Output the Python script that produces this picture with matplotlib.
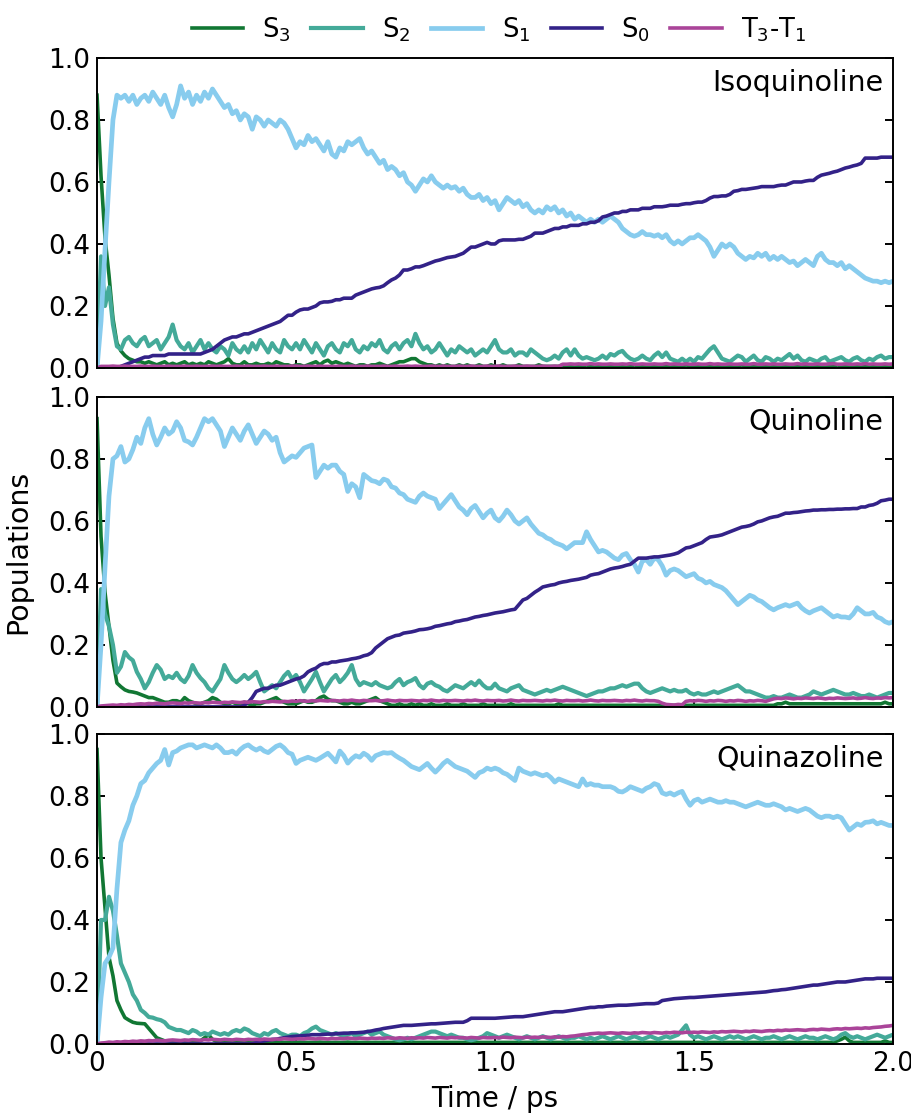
import numpy as np
import matplotlib
matplotlib.use("Agg")
import matplotlib.pyplot as plt

# Time axis of the surface-hopping populations (0.01 ps resolution)
time_ps = np.linspace(0.0, 2.0, 201)

state_labels = [r"S$_3$", r"S$_2$", r"S$_1$", r"S$_0$", r"T$_3$-T$_1$"]
state_colors = ["#117733", "#44AA99", "#88CCEE", "#332288", "#AA4499"]
state_widths = [2.6, 3.0, 3.4, 2.6, 2.6]
molecules = ["Isoquinoline", "Quinoline", "Quinazoline"]
x_ticks = [0, 0.5, 1.0, 1.5, 2.0]
x_tick_labels = ["0", "0.5", "1.0", "1.5", "2.0"]
y_ticks = [0.0, 0.2, 0.4, 0.6, 0.8, 1.0]
y_tick_labels = ["0.0", "0.2", "0.4", "0.6", "0.8", "1.0"]

# ---------------- Isoquinoline ----------------
iso_s3 = [
    0.88, 0.62, 0.42, 0.30, 0.16, 0.08, 0.055, 0.04, 0.03, 0.025,
    0.02, 0.02, 0.015, 0.02, 0.015, 0.01, 0.015, 0.02, 0.01, 0.015,
    0.01, 0.015, 0.02, 0.01, 0.015, 0.01, 0.015, 0.01, 0.02, 0.015,
    0.01, 0.015, 0.02, 0.03, 0.015, 0.01, 0.01, 0.02, 0.01, 0.01,
    0.015, 0.01, 0.01, 0.015, 0.01, 0.02, 0.015, 0.01, 0.01, 0.005,
    0.01, 0.01, 0.005, 0.01, 0.015, 0.02, 0.01, 0.02, 0.025, 0.015,
    0.02, 0.015, 0.01, 0.015, 0.01, 0.005, 0.01, 0.01, 0.005, 0.01,
    0.01, 0.015, 0.01, 0.005, 0.01, 0.015, 0.02, 0.02, 0.025, 0.03,
    0.03, 0.02, 0.015, 0.01, 0.01, 0.005, 0.01, 0.005, 0.01, 0.005,
    0.005, 0.01, 0.005, 0.01, 0.005, 0.005, 0.01, 0.005, 0.005, 0.01,
    0.005, 0.005, 0.01, 0.005, 0.005, 0.005, 0.01, 0.005, 0.005, 0.005,
    0.005, 0.01, 0.005, 0.005, 0.005, 0.005, 0.005, 0.01, 0.005, 0.005,
    0.005, 0.005, 0.005, 0.01, 0.005, 0.005, 0.005, 0.005, 0.005, 0.005,
    0.005, 0.005, 0.005, 0.005, 0.005, 0.01, 0.005, 0.005, 0.005, 0.005,
    0.005, 0.005, 0.005, 0.005, 0.005, 0.005, 0.005, 0.005, 0.01, 0.005,
    0.005, 0.005, 0.005, 0.005, 0.005, 0.005, 0.005, 0.005, 0.005, 0.005,
    0.005, 0.005, 0.01, 0.005, 0.005, 0.005, 0.005, 0.005, 0.005, 0.005,
    0.005, 0.005, 0.005, 0.005, 0.005, 0.005, 0.005, 0.005, 0.005, 0.005,
    0.005, 0.005, 0.005, 0.005, 0.005, 0.005, 0.01, 0.005, 0.005, 0.005,
    0.005, 0.005, 0.005, 0.005, 0.005, 0.005, 0.005, 0.005, 0.005, 0.005,
    0.005,
]
iso_s2 = [
    0.00, 0.36, 0.20, 0.26, 0.14, 0.07, 0.06, 0.09, 0.10, 0.08,
    0.07, 0.09, 0.10, 0.07, 0.08, 0.09, 0.06, 0.08, 0.10, 0.14,
    0.09, 0.07, 0.06, 0.08, 0.05, 0.07, 0.09, 0.06, 0.08, 0.06,
    0.05, 0.07, 0.06, 0.04, 0.08, 0.06, 0.05, 0.07, 0.05, 0.08,
    0.06, 0.09, 0.07, 0.05, 0.08, 0.06, 0.05, 0.09, 0.07, 0.06,
    0.08, 0.06, 0.09, 0.07, 0.05, 0.08, 0.06, 0.04, 0.07, 0.08,
    0.06, 0.05, 0.08, 0.07, 0.09, 0.06, 0.05, 0.07, 0.06, 0.08,
    0.07, 0.09, 0.06, 0.05, 0.07, 0.08, 0.06, 0.08, 0.09, 0.07,
    0.11, 0.08, 0.06, 0.07, 0.05, 0.06, 0.08, 0.06, 0.04, 0.06,
    0.05, 0.07, 0.06, 0.05, 0.06, 0.04, 0.05, 0.06, 0.05, 0.07,
    0.09, 0.06, 0.05, 0.05, 0.06, 0.04, 0.05, 0.05, 0.04, 0.06,
    0.05, 0.04, 0.03, 0.025, 0.03, 0.04, 0.03, 0.05, 0.06, 0.04,
    0.06, 0.04, 0.03, 0.035, 0.03, 0.025, 0.03, 0.04, 0.03, 0.045,
    0.04, 0.05, 0.055, 0.04, 0.03, 0.025, 0.03, 0.04, 0.03, 0.025,
    0.04, 0.05, 0.035, 0.05, 0.03, 0.025, 0.02, 0.03, 0.02, 0.03,
    0.02, 0.035, 0.03, 0.045, 0.06, 0.07, 0.05, 0.03, 0.025, 0.02,
    0.03, 0.04, 0.035, 0.02, 0.03, 0.04, 0.025, 0.02, 0.035, 0.03,
    0.02, 0.03, 0.025, 0.035, 0.045, 0.03, 0.04, 0.025, 0.02, 0.03,
    0.025, 0.02, 0.03, 0.035, 0.02, 0.025, 0.03, 0.035, 0.025, 0.02,
    0.03, 0.035, 0.025, 0.02, 0.03, 0.025, 0.035, 0.04, 0.03, 0.035,
    0.035,
]
iso_s1 = [
    0.00, 0.15, 0.38, 0.60, 0.80, 0.88, 0.87, 0.88, 0.86, 0.88,
    0.85, 0.87, 0.88, 0.86, 0.89, 0.87, 0.85, 0.88, 0.84, 0.81,
    0.85, 0.91, 0.87, 0.89, 0.85, 0.88, 0.86, 0.89, 0.87, 0.90,
    0.88, 0.86, 0.84, 0.85, 0.82, 0.83, 0.80, 0.82, 0.81, 0.77,
    0.81, 0.80, 0.78, 0.80, 0.79, 0.78, 0.80, 0.79, 0.77, 0.74,
    0.71, 0.73, 0.72, 0.75, 0.73, 0.74, 0.72, 0.70, 0.73, 0.69,
    0.68, 0.71, 0.70, 0.73, 0.72, 0.73, 0.74, 0.71, 0.69, 0.70,
    0.68, 0.66, 0.67, 0.64, 0.65, 0.64, 0.62, 0.63, 0.60, 0.59,
    0.57, 0.59, 0.61, 0.60, 0.62, 0.60, 0.59, 0.58, 0.59, 0.58,
    0.585, 0.57, 0.58, 0.56, 0.55, 0.55, 0.56, 0.54, 0.55, 0.53,
    0.54, 0.51, 0.53, 0.55, 0.54, 0.53, 0.54, 0.52, 0.53, 0.51,
    0.50, 0.51, 0.50, 0.52, 0.51, 0.52, 0.50, 0.51, 0.49, 0.50,
    0.48, 0.49, 0.48, 0.47, 0.48, 0.47, 0.48, 0.47, 0.48, 0.49,
    0.48, 0.47, 0.45, 0.44, 0.43, 0.425, 0.43, 0.44, 0.43, 0.43,
    0.425, 0.43, 0.42, 0.43, 0.41, 0.40, 0.41, 0.40, 0.41, 0.42,
    0.42, 0.43, 0.42, 0.41, 0.39, 0.36, 0.38, 0.40, 0.39, 0.40,
    0.39, 0.37, 0.36, 0.35, 0.36, 0.355, 0.37, 0.36, 0.37, 0.35,
    0.36, 0.35, 0.36, 0.35, 0.34, 0.345, 0.33, 0.34, 0.35, 0.34,
    0.33, 0.36, 0.37, 0.35, 0.34, 0.34, 0.33, 0.34, 0.32, 0.33,
    0.32, 0.31, 0.30, 0.29, 0.285, 0.28, 0.28, 0.275, 0.28, 0.275,
    0.28,
]
iso_s0 = [
    0.0, 0.0, 0.0, 0.0, 0.0, 0.0, 0.005, 0.01, 0.015, 0.02,
    0.025, 0.03, 0.035, 0.035, 0.04, 0.04, 0.04, 0.04, 0.045, 0.045,
    0.045, 0.045, 0.045, 0.045, 0.045, 0.045, 0.045, 0.05, 0.055, 0.06,
    0.07, 0.08, 0.09, 0.095, 0.10, 0.10, 0.105, 0.11, 0.11, 0.115,
    0.12, 0.125, 0.13, 0.135, 0.14, 0.145, 0.15, 0.16, 0.17, 0.17,
    0.18, 0.187, 0.19, 0.19, 0.195, 0.20, 0.21, 0.213, 0.213, 0.215,
    0.22, 0.22, 0.225, 0.225, 0.225, 0.235, 0.24, 0.245, 0.25, 0.255,
    0.258, 0.26, 0.265, 0.275, 0.284, 0.29, 0.30, 0.316, 0.316, 0.32,
    0.326, 0.326, 0.33, 0.335, 0.34, 0.345, 0.348, 0.352, 0.356, 0.358,
    0.36, 0.365, 0.37, 0.38, 0.39, 0.39, 0.395, 0.40, 0.405, 0.40,
    0.40, 0.41, 0.413, 0.413, 0.413, 0.413, 0.415, 0.415, 0.42, 0.425,
    0.435, 0.435, 0.435, 0.44, 0.445, 0.45, 0.45, 0.455, 0.455, 0.46,
    0.46, 0.46, 0.465, 0.465, 0.47, 0.47, 0.475, 0.487, 0.49, 0.495,
    0.50, 0.50, 0.505, 0.505, 0.51, 0.51, 0.51, 0.515, 0.515, 0.515,
    0.52, 0.52, 0.52, 0.522, 0.525, 0.525, 0.525, 0.528, 0.53, 0.53,
    0.533, 0.535, 0.535, 0.54, 0.548, 0.553, 0.553, 0.555, 0.555, 0.56,
    0.57, 0.572, 0.576, 0.576, 0.578, 0.58, 0.582, 0.585, 0.585, 0.585,
    0.585, 0.588, 0.59, 0.59, 0.595, 0.60, 0.60, 0.60, 0.603, 0.605,
    0.605, 0.615, 0.622, 0.625, 0.628, 0.632, 0.635, 0.64, 0.645, 0.648,
    0.652, 0.655, 0.66, 0.677, 0.677, 0.677, 0.677, 0.68, 0.68, 0.68,
    0.68,
]
iso_tt = [
    0.0, 0.005, 0.005, 0.005, 0.006, 0.005, 0.005, 0.006, 0.005, 0.005,
    0.005, 0.006, 0.005, 0.005, 0.006, 0.005, 0.005, 0.005, 0.006, 0.005,
    0.005, 0.005, 0.006, 0.005, 0.005, 0.006, 0.005, 0.005, 0.005, 0.006,
    0.005, 0.006, 0.005, 0.005, 0.005, 0.006, 0.005, 0.005, 0.006, 0.005,
    0.005, 0.005, 0.006, 0.005, 0.005, 0.006, 0.005, 0.005, 0.005, 0.006,
    0.006, 0.005, 0.005, 0.006, 0.005, 0.005, 0.006, 0.005, 0.005, 0.005,
    0.005, 0.006, 0.005, 0.005, 0.006, 0.005, 0.005, 0.005, 0.006, 0.005,
    0.005, 0.005, 0.006, 0.005, 0.005, 0.006, 0.005, 0.005, 0.006, 0.005,
    0.006, 0.005, 0.005, 0.005, 0.006, 0.005, 0.005, 0.006, 0.005, 0.005,
    0.005, 0.006, 0.005, 0.005, 0.006, 0.005, 0.005, 0.005, 0.006, 0.005,
    0.005, 0.006, 0.005, 0.005, 0.005, 0.006, 0.005, 0.005, 0.006, 0.005,
    0.005, 0.005, 0.006, 0.005, 0.005, 0.006, 0.005, 0.012, 0.012, 0.013,
    0.012, 0.013, 0.012, 0.012, 0.014, 0.012, 0.013, 0.012, 0.012, 0.013,
    0.012, 0.012, 0.013, 0.012, 0.014, 0.012, 0.012, 0.013, 0.012, 0.012,
    0.013, 0.012, 0.012, 0.014, 0.012, 0.013, 0.012, 0.012, 0.013, 0.012,
    0.012, 0.013, 0.012, 0.012, 0.014, 0.012, 0.013, 0.012, 0.012, 0.013,
    0.012, 0.012, 0.013, 0.012, 0.012, 0.014, 0.012, 0.012, 0.013, 0.012,
    0.013, 0.012, 0.012, 0.013, 0.012, 0.012, 0.014, 0.012, 0.013, 0.012,
    0.012, 0.013, 0.012, 0.012, 0.013, 0.014, 0.012, 0.012, 0.013, 0.012,
    0.012, 0.013, 0.012, 0.014, 0.012, 0.013, 0.012, 0.012, 0.013, 0.012,
    0.013,
]

# ---------------- Quinoline ----------------
qui_s3 = [
    0.93, 0.55, 0.37, 0.26, 0.15, 0.077, 0.065, 0.055, 0.05, 0.048,
    0.045, 0.04, 0.035, 0.03, 0.03, 0.025, 0.02, 0.015, 0.015, 0.02,
    0.02, 0.015, 0.03, 0.02, 0.015, 0.01, 0.01, 0.015, 0.02, 0.03,
    0.025, 0.015, 0.01, 0.01, 0.015, 0.01, 0.01, 0.015, 0.01, 0.005,
    0.01, 0.01, 0.015, 0.02, 0.025, 0.03, 0.02, 0.015, 0.01, 0.01,
    0.01, 0.015, 0.02, 0.015, 0.015, 0.02, 0.03, 0.035, 0.025, 0.02,
    0.02, 0.015, 0.01, 0.01, 0.015, 0.01, 0.01, 0.015, 0.02, 0.025,
    0.03, 0.02, 0.015, 0.01, 0.005, 0.005, 0.01, 0.005, 0.005, 0.01,
    0.005, 0.01, 0.005, 0.005, 0.01, 0.005, 0.005, 0.005, 0.01, 0.005,
    0.005, 0.005, 0.01, 0.005, 0.005, 0.005, 0.005, 0.01, 0.005, 0.005,
    0.005, 0.005, 0.005, 0.005, 0.01, 0.005, 0.005, 0.005, 0.005, 0.005,
    0.005, 0.005, 0.005, 0.005, 0.005, 0.005, 0.01, 0.005, 0.005, 0.005,
    0.005, 0.005, 0.005, 0.005, 0.005, 0.005, 0.005, 0.005, 0.005, 0.005,
    0.005, 0.005, 0.005, 0.005, 0.005, 0.005, 0.005, 0.005, 0.005, 0.005,
    0.005, 0.005, 0.005, 0.005, 0.005, 0.005, 0.005, 0.005, 0.005, 0.005,
    0.005, 0.005, 0.005, 0.005, 0.005, 0.005, 0.005, 0.005, 0.005, 0.005,
    0.005, 0.005, 0.005, 0.005, 0.005, 0.005, 0.005, 0.005, 0.005, 0.005,
    0.005, 0.01, 0.01, 0.015, 0.01, 0.01, 0.01, 0.01, 0.01, 0.01,
    0.01, 0.01, 0.01, 0.01, 0.01, 0.01, 0.01, 0.01, 0.01, 0.01,
    0.01, 0.01, 0.01, 0.01, 0.01, 0.01, 0.01, 0.01, 0.015, 0.01,
    0.01,
]
qui_s2 = [
    0.00, 0.38, 0.30, 0.26, 0.20, 0.11, 0.13, 0.177, 0.16, 0.15,
    0.113, 0.09, 0.06, 0.08, 0.11, 0.135, 0.12, 0.09, 0.10, 0.093,
    0.11, 0.09, 0.08, 0.10, 0.135, 0.11, 0.093, 0.08, 0.06, 0.05,
    0.07, 0.09, 0.135, 0.11, 0.09, 0.08, 0.09, 0.103, 0.09, 0.10,
    0.113, 0.08, 0.05, 0.06, 0.07, 0.06, 0.08, 0.10, 0.113, 0.09,
    0.103, 0.08, 0.05, 0.07, 0.09, 0.113, 0.08, 0.05, 0.07, 0.09,
    0.103, 0.08, 0.093, 0.11, 0.135, 0.09, 0.07, 0.08, 0.075, 0.07,
    0.08, 0.07, 0.065, 0.06, 0.065, 0.08, 0.09, 0.07, 0.08, 0.085,
    0.093, 0.07, 0.06, 0.075, 0.08, 0.07, 0.065, 0.055, 0.05, 0.06,
    0.07, 0.065, 0.06, 0.07, 0.08, 0.07, 0.085, 0.07, 0.06, 0.06,
    0.075, 0.06, 0.055, 0.05, 0.06, 0.065, 0.07, 0.055, 0.05, 0.045,
    0.04, 0.045, 0.05, 0.055, 0.05, 0.055, 0.06, 0.065, 0.06, 0.055,
    0.05, 0.045, 0.04, 0.035, 0.04, 0.045, 0.05, 0.05, 0.055, 0.06,
    0.06, 0.065, 0.07, 0.065, 0.07, 0.075, 0.075, 0.06, 0.05, 0.045,
    0.05, 0.055, 0.06, 0.055, 0.05, 0.055, 0.05, 0.05, 0.055, 0.045,
    0.04, 0.045, 0.04, 0.04, 0.045, 0.05, 0.045, 0.05, 0.055, 0.06,
    0.065, 0.07, 0.06, 0.05, 0.05, 0.045, 0.04, 0.035, 0.03, 0.03,
    0.035, 0.03, 0.03, 0.035, 0.04, 0.035, 0.03, 0.03, 0.035, 0.04,
    0.05, 0.045, 0.04, 0.045, 0.05, 0.055, 0.05, 0.045, 0.04, 0.04,
    0.045, 0.04, 0.035, 0.035, 0.04, 0.035, 0.03, 0.035, 0.04, 0.045,
    0.045,
]
qui_s1 = [
    0.00, 0.20, 0.45, 0.68, 0.80, 0.81, 0.84, 0.79, 0.80, 0.83,
    0.87, 0.85, 0.90, 0.93, 0.88, 0.845, 0.87, 0.90, 0.88, 0.89,
    0.92, 0.90, 0.86, 0.855, 0.845, 0.87, 0.90, 0.93, 0.92, 0.93,
    0.91, 0.89, 0.84, 0.87, 0.90, 0.88, 0.86, 0.89, 0.91, 0.88,
    0.85, 0.87, 0.89, 0.88, 0.86, 0.87, 0.82, 0.79, 0.80, 0.81,
    0.805, 0.82, 0.835, 0.84, 0.845, 0.74, 0.76, 0.78, 0.77, 0.78,
    0.78, 0.76, 0.75, 0.695, 0.72, 0.71, 0.675, 0.75, 0.74, 0.73,
    0.727, 0.72, 0.735, 0.73, 0.71, 0.706, 0.69, 0.685, 0.67, 0.665,
    0.66, 0.68, 0.69, 0.68, 0.675, 0.67, 0.64, 0.655, 0.67, 0.685,
    0.665, 0.645, 0.635, 0.62, 0.64, 0.65, 0.63, 0.61, 0.625, 0.635,
    0.61, 0.60, 0.615, 0.635, 0.62, 0.60, 0.59, 0.60, 0.61, 0.59,
    0.575, 0.56, 0.555, 0.545, 0.54, 0.53, 0.525, 0.52, 0.51, 0.52,
    0.53, 0.53, 0.53, 0.565, 0.54, 0.52, 0.50, 0.505, 0.50, 0.49,
    0.48, 0.475, 0.49, 0.495, 0.475, 0.46, 0.435, 0.47, 0.475, 0.46,
    0.48, 0.475, 0.455, 0.425, 0.44, 0.445, 0.44, 0.43, 0.42, 0.425,
    0.43, 0.415, 0.41, 0.40, 0.405, 0.395, 0.39, 0.385, 0.375, 0.36,
    0.345, 0.33, 0.34, 0.35, 0.36, 0.355, 0.345, 0.34, 0.33, 0.32,
    0.313, 0.32, 0.325, 0.33, 0.325, 0.33, 0.335, 0.32, 0.31, 0.303,
    0.31, 0.315, 0.32, 0.31, 0.30, 0.29, 0.295, 0.29, 0.29, 0.287,
    0.30, 0.32, 0.31, 0.30, 0.30, 0.305, 0.29, 0.285, 0.275, 0.27,
    0.275,
]
qui_s0 = [
    0.0, 0.0, 0.0, 0.0, 0.0, 0.0, 0.0, 0.0, 0.0, 0.0,
    0.0, 0.0, 0.0, 0.0, 0.0, 0.0, 0.0, 0.0, 0.0, 0.0,
    0.0, 0.0, 0.0, 0.0, 0.0, 0.0, 0.0, 0.0, 0.0, 0.0,
    0.0, 0.0, 0.0, 0.0, 0.0, 0.0, 0.0, 0.005, 0.015, 0.03,
    0.05, 0.055, 0.06, 0.06, 0.065, 0.07, 0.07, 0.075, 0.08, 0.085,
    0.09, 0.093, 0.10, 0.113, 0.12, 0.125, 0.135, 0.14, 0.14, 0.145,
    0.145, 0.148, 0.15, 0.152, 0.155, 0.157, 0.16, 0.165, 0.168, 0.175,
    0.19, 0.20, 0.21, 0.22, 0.225, 0.23, 0.232, 0.238, 0.24, 0.242,
    0.245, 0.249, 0.25, 0.252, 0.255, 0.26, 0.262, 0.265, 0.268, 0.27,
    0.275, 0.277, 0.28, 0.282, 0.286, 0.29, 0.292, 0.295, 0.297, 0.30,
    0.303, 0.305, 0.307, 0.31, 0.313, 0.315, 0.33, 0.345, 0.35, 0.36,
    0.37, 0.378, 0.387, 0.39, 0.393, 0.395, 0.40, 0.403, 0.405, 0.408,
    0.41, 0.412, 0.415, 0.418, 0.425, 0.428, 0.43, 0.435, 0.44, 0.445,
    0.448, 0.45, 0.453, 0.457, 0.46, 0.47, 0.48, 0.48, 0.48, 0.482,
    0.484, 0.484, 0.486, 0.488, 0.49, 0.493, 0.497, 0.505, 0.513, 0.515,
    0.52, 0.525, 0.53, 0.54, 0.548, 0.55, 0.552, 0.555, 0.56, 0.565,
    0.57, 0.575, 0.58, 0.582, 0.585, 0.59, 0.597, 0.60, 0.605, 0.61,
    0.613, 0.615, 0.62, 0.625, 0.625, 0.627, 0.628, 0.63, 0.632, 0.633,
    0.635, 0.635, 0.636, 0.636, 0.637, 0.637, 0.638, 0.638, 0.639, 0.639,
    0.64, 0.64, 0.645, 0.645, 0.65, 0.652, 0.657, 0.665, 0.667, 0.67,
    0.67,
]
qui_tt = [
    0.0, 0.003, 0.004, 0.005, 0.006, 0.005, 0.007, 0.006, 0.008, 0.007,
    0.009, 0.01, 0.009, 0.011, 0.01, 0.012, 0.011, 0.01, 0.012, 0.013,
    0.012, 0.011, 0.013, 0.012, 0.014, 0.013, 0.012, 0.014, 0.013, 0.015,
    0.014, 0.013, 0.015, 0.014, 0.016, 0.015, 0.014, 0.016, 0.015, 0.017,
    0.016, 0.015, 0.017, 0.016, 0.018, 0.017, 0.016, 0.018, 0.017, 0.019,
    0.018, 0.02, 0.019, 0.018, 0.02, 0.019, 0.021, 0.02, 0.019, 0.021,
    0.02, 0.019, 0.021, 0.02, 0.022, 0.02, 0.019, 0.021, 0.02, 0.02,
    0.021, 0.019, 0.02, 0.022, 0.02, 0.019, 0.021, 0.02, 0.02, 0.021,
    0.02, 0.019, 0.021, 0.02, 0.022, 0.02, 0.019, 0.021, 0.02, 0.02,
    0.021, 0.02, 0.019, 0.021, 0.02, 0.022, 0.02, 0.019, 0.021, 0.02,
    0.02, 0.021, 0.019, 0.02, 0.022, 0.02, 0.019, 0.021, 0.02, 0.02,
    0.021, 0.02, 0.019, 0.021, 0.02, 0.022, 0.02, 0.019, 0.021, 0.02,
    0.02, 0.021, 0.019, 0.02, 0.022, 0.02, 0.019, 0.021, 0.02, 0.02,
    0.021, 0.02, 0.019, 0.021, 0.02, 0.022, 0.02, 0.019, 0.021, 0.02,
    0.02, 0.018, 0.012, 0.008, 0.007, 0.006, 0.008, 0.007, 0.018, 0.02,
    0.019, 0.021, 0.02, 0.018, 0.02, 0.019, 0.021, 0.02, 0.018, 0.02,
    0.019, 0.021, 0.02, 0.018, 0.02, 0.019, 0.021, 0.02, 0.018, 0.022,
    0.026, 0.028, 0.027, 0.029, 0.028, 0.026, 0.028, 0.027, 0.029, 0.028,
    0.027, 0.029, 0.028, 0.026, 0.028, 0.027, 0.029, 0.028, 0.027, 0.028,
    0.029, 0.027, 0.028, 0.03, 0.028, 0.027, 0.029, 0.028, 0.03, 0.029,
    0.03,
]

# ---------------- Quinazoline ----------------
qzn_s3 = [
    0.95, 0.60, 0.44, 0.28, 0.22, 0.14, 0.11, 0.085, 0.077, 0.07,
    0.067, 0.066, 0.065, 0.05, 0.035, 0.02, 0.015, 0.01, 0.01, 0.008,
    0.008, 0.006, 0.005, 0.006, 0.005, 0.008, 0.01, 0.02, 0.03, 0.015,
    0.008, 0.006, 0.005, 0.005, 0.006, 0.005, 0.005, 0.006, 0.005, 0.005,
    0.005, 0.005, 0.006, 0.005, 0.005, 0.005, 0.006, 0.005, 0.005, 0.005,
    0.005, 0.006, 0.005, 0.005, 0.005, 0.005, 0.006, 0.005, 0.005, 0.005,
    0.005, 0.005, 0.005, 0.006, 0.005, 0.005, 0.005, 0.005, 0.005, 0.005,
    0.005, 0.005, 0.005, 0.005, 0.005, 0.005, 0.005, 0.005, 0.005, 0.005,
    0.005, 0.005, 0.005, 0.005, 0.005, 0.005, 0.005, 0.005, 0.005, 0.005,
    0.005, 0.005, 0.005, 0.005, 0.005, 0.005, 0.005, 0.005, 0.005, 0.005,
    0.005, 0.005, 0.005, 0.005, 0.005, 0.005, 0.005, 0.005, 0.005, 0.005,
    0.005, 0.005, 0.005, 0.005, 0.005, 0.005, 0.005, 0.005, 0.005, 0.005,
    0.005, 0.005, 0.005, 0.005, 0.005, 0.005, 0.005, 0.005, 0.005, 0.005,
    0.005, 0.005, 0.005, 0.005, 0.005, 0.005, 0.005, 0.005, 0.005, 0.005,
    0.005, 0.005, 0.005, 0.005, 0.005, 0.005, 0.005, 0.005, 0.005, 0.005,
    0.005, 0.005, 0.005, 0.005, 0.005, 0.005, 0.005, 0.005, 0.005, 0.005,
    0.005, 0.005, 0.005, 0.005, 0.005, 0.005, 0.005, 0.005, 0.005, 0.005,
    0.005, 0.005, 0.005, 0.005, 0.005, 0.005, 0.005, 0.005, 0.005, 0.005,
    0.005, 0.005, 0.005, 0.005, 0.005, 0.005, 0.01, 0.015, 0.022, 0.01,
    0.005, 0.005, 0.005, 0.005, 0.005, 0.005, 0.005, 0.005, 0.01, 0.005,
    0.005,
]
qzn_s2 = [
    0.00, 0.40, 0.40, 0.475, 0.43, 0.35, 0.26, 0.23, 0.20, 0.16,
    0.14, 0.11, 0.10, 0.087, 0.085, 0.08, 0.077, 0.07, 0.055, 0.05,
    0.045, 0.045, 0.04, 0.035, 0.045, 0.04, 0.03, 0.035, 0.03, 0.04,
    0.035, 0.03, 0.035, 0.03, 0.04, 0.045, 0.04, 0.05, 0.045, 0.035,
    0.03, 0.025, 0.035, 0.03, 0.04, 0.045, 0.035, 0.03, 0.025, 0.03,
    0.03, 0.025, 0.035, 0.04, 0.05, 0.056, 0.045, 0.04, 0.035, 0.03,
    0.035, 0.03, 0.025, 0.03, 0.035, 0.025, 0.03, 0.035, 0.04, 0.03,
    0.035, 0.04, 0.03, 0.025, 0.02, 0.015, 0.012, 0.015, 0.02, 0.015,
    0.02, 0.025, 0.03, 0.035, 0.04, 0.04, 0.035, 0.03, 0.025, 0.03,
    0.025, 0.02, 0.02, 0.015, 0.012, 0.015, 0.02, 0.025, 0.035, 0.03,
    0.025, 0.02, 0.025, 0.03, 0.025, 0.02, 0.015, 0.02, 0.025, 0.02,
    0.015, 0.02, 0.025, 0.02, 0.015, 0.02, 0.025, 0.02, 0.015, 0.02,
    0.02, 0.025, 0.02, 0.015, 0.02, 0.015, 0.02, 0.025, 0.02, 0.015,
    0.02, 0.025, 0.02, 0.015, 0.02, 0.025, 0.02, 0.015, 0.02, 0.025,
    0.02, 0.015, 0.02, 0.025, 0.02, 0.025, 0.03, 0.045, 0.06, 0.03,
    0.02, 0.025, 0.02, 0.015, 0.02, 0.025, 0.02, 0.015, 0.02, 0.025,
    0.02, 0.025, 0.02, 0.015, 0.02, 0.025, 0.02, 0.015, 0.02, 0.02,
    0.025, 0.02, 0.015, 0.02, 0.025, 0.02, 0.015, 0.02, 0.025, 0.02,
    0.02, 0.015, 0.02, 0.025, 0.02, 0.015, 0.02, 0.03, 0.035, 0.025,
    0.02, 0.025, 0.02, 0.015, 0.02, 0.025, 0.03, 0.025, 0.02, 0.025,
    0.03,
]
qzn_s1 = [
    0.00, 0.15, 0.26, 0.28, 0.31, 0.50, 0.65, 0.69, 0.72, 0.77,
    0.80, 0.84, 0.85, 0.875, 0.89, 0.905, 0.915, 0.95, 0.90, 0.94,
    0.945, 0.955, 0.96, 0.965, 0.965, 0.955, 0.96, 0.965, 0.96, 0.955,
    0.965, 0.955, 0.94, 0.94, 0.945, 0.935, 0.95, 0.96, 0.965, 0.955,
    0.948, 0.955, 0.945, 0.94, 0.95, 0.96, 0.965, 0.955, 0.94, 0.935,
    0.905, 0.915, 0.92, 0.925, 0.92, 0.915, 0.922, 0.93, 0.938, 0.925,
    0.91, 0.945, 0.93, 0.906, 0.92, 0.93, 0.925, 0.938, 0.93, 0.915,
    0.93, 0.935, 0.94, 0.938, 0.94, 0.93, 0.922, 0.915, 0.905, 0.895,
    0.89, 0.885, 0.895, 0.905, 0.89, 0.877, 0.89, 0.905, 0.915, 0.905,
    0.895, 0.89, 0.885, 0.88, 0.87, 0.86, 0.875, 0.88, 0.89, 0.885,
    0.89, 0.885, 0.875, 0.87, 0.86, 0.85, 0.89, 0.88, 0.875, 0.87,
    0.875, 0.87, 0.865, 0.87, 0.86, 0.845, 0.855, 0.85, 0.845, 0.84,
    0.835, 0.83, 0.855, 0.835, 0.84, 0.835, 0.835, 0.83, 0.83, 0.83,
    0.825, 0.815, 0.813, 0.82, 0.83, 0.825, 0.82, 0.815, 0.825, 0.83,
    0.84, 0.835, 0.81, 0.805, 0.81, 0.803, 0.81, 0.815, 0.79, 0.77,
    0.785, 0.79, 0.78, 0.785, 0.79, 0.785, 0.78, 0.78, 0.785, 0.78,
    0.78, 0.775, 0.77, 0.765, 0.77, 0.775, 0.78, 0.775, 0.77, 0.77,
    0.775, 0.77, 0.765, 0.755, 0.76, 0.755, 0.75, 0.755, 0.76, 0.755,
    0.745, 0.735, 0.73, 0.735, 0.735, 0.73, 0.735, 0.73, 0.71, 0.69,
    0.70, 0.71, 0.705, 0.715, 0.716, 0.72, 0.71, 0.715, 0.71, 0.705,
    0.705,
]
qzn_s0 = [
    0.0, 0.0, 0.0, 0.0, 0.0, 0.0, 0.0, 0.0, 0.0, 0.0,
    0.0, 0.0, 0.0, 0.0, 0.0, 0.0, 0.0, 0.0, 0.0, 0.0,
    0.0, 0.0, 0.0, 0.0, 0.0, 0.0, 0.0, 0.0, 0.0, 0.0,
    0.0, 0.0, 0.0, 0.0, 0.0, 0.0, 0.0, 0.0, 0.0, 0.0,
    0.005, 0.008, 0.01, 0.012, 0.015, 0.015, 0.018, 0.02, 0.022, 0.024,
    0.025, 0.026, 0.027, 0.028, 0.03, 0.03, 0.03, 0.031, 0.032, 0.032,
    0.033, 0.034, 0.035, 0.035, 0.036, 0.036, 0.037, 0.038, 0.04, 0.042,
    0.045, 0.047, 0.05, 0.052, 0.054, 0.056, 0.058, 0.06, 0.06, 0.06,
    0.061, 0.062, 0.063, 0.064, 0.065, 0.065, 0.066, 0.067, 0.068, 0.069,
    0.07, 0.07, 0.07, 0.075, 0.083, 0.083, 0.083, 0.083, 0.083, 0.083,
    0.083, 0.084, 0.085, 0.086, 0.087, 0.088, 0.088, 0.088, 0.09, 0.092,
    0.094, 0.096, 0.098, 0.10, 0.102, 0.104, 0.104, 0.104, 0.106, 0.108,
    0.11, 0.112, 0.114, 0.116, 0.118, 0.118, 0.12, 0.12, 0.122, 0.123,
    0.124, 0.125, 0.125, 0.125, 0.126, 0.127, 0.128, 0.129, 0.13, 0.13,
    0.13, 0.132, 0.14, 0.142, 0.144, 0.146, 0.147, 0.148, 0.149, 0.15,
    0.15, 0.151, 0.152, 0.153, 0.154, 0.155, 0.156, 0.157, 0.158, 0.159,
    0.16, 0.161, 0.162, 0.163, 0.164, 0.165, 0.166, 0.167, 0.168, 0.17,
    0.172, 0.173, 0.175, 0.176, 0.178, 0.18, 0.182, 0.184, 0.186, 0.188,
    0.19, 0.19, 0.192, 0.194, 0.196, 0.198, 0.20, 0.20, 0.20, 0.202,
    0.204, 0.206, 0.208, 0.21, 0.21, 0.21, 0.212, 0.212, 0.212, 0.212,
    0.212,
]
qzn_tt = [
    0.0, 0.003, 0.004, 0.006, 0.005, 0.007, 0.006, 0.008, 0.007, 0.009,
    0.008, 0.01, 0.009, 0.011, 0.01, 0.012, 0.011, 0.01, 0.012, 0.013,
    0.012, 0.011, 0.013, 0.012, 0.014, 0.013, 0.012, 0.014, 0.013, 0.015,
    0.014, 0.013, 0.015, 0.014, 0.013, 0.015, 0.014, 0.013, 0.015, 0.014,
    0.015, 0.014, 0.016, 0.015, 0.014, 0.016, 0.015, 0.017, 0.016, 0.015,
    0.016, 0.017, 0.016, 0.018, 0.017, 0.016, 0.018, 0.017, 0.016, 0.018,
    0.017, 0.018, 0.017, 0.019, 0.018, 0.017, 0.019, 0.018, 0.017, 0.019,
    0.018, 0.019, 0.018, 0.02, 0.019, 0.018, 0.02, 0.019, 0.018, 0.02,
    0.019, 0.02, 0.019, 0.021, 0.02, 0.019, 0.021, 0.02, 0.019, 0.021,
    0.02, 0.021, 0.02, 0.019, 0.021, 0.02, 0.019, 0.021, 0.02, 0.02,
    0.021, 0.02, 0.022, 0.021, 0.02, 0.022, 0.021, 0.02, 0.022, 0.021,
    0.022, 0.021, 0.023, 0.022, 0.021, 0.023, 0.022, 0.024, 0.023, 0.025,
    0.026, 0.028, 0.03, 0.031, 0.033, 0.034, 0.035, 0.034, 0.035, 0.036,
    0.035, 0.034, 0.036, 0.035, 0.034, 0.036, 0.035, 0.037, 0.036, 0.035,
    0.037, 0.036, 0.035, 0.037, 0.036, 0.038, 0.037, 0.036, 0.038, 0.037,
    0.038, 0.037, 0.039, 0.038, 0.037, 0.039, 0.038, 0.04, 0.039, 0.04,
    0.041, 0.04, 0.039, 0.041, 0.04, 0.042, 0.041, 0.04, 0.042, 0.043,
    0.042, 0.044, 0.043, 0.045, 0.044, 0.045, 0.046, 0.045, 0.044, 0.046,
    0.047, 0.046, 0.048, 0.047, 0.046, 0.048, 0.049, 0.048, 0.05, 0.049,
    0.05, 0.051, 0.05, 0.052, 0.051, 0.053, 0.054, 0.055, 0.057, 0.058,
    0.06,
]

panel_series = [
    [iso_s3, iso_s2, iso_s1, iso_s0, iso_tt],
    [qui_s3, qui_s2, qui_s1, qui_s0, qui_tt],
    [qzn_s3, qzn_s2, qzn_s1, qzn_s0, qzn_tt],
]

plt.rcParams["font.family"] = ["DejaVu Sans"]
plt.rcParams["mathtext.fontset"] = "dejavusans"

fig = plt.figure(figsize=(9.12, 11.15), dpi=100)
left, width = 0.1064, 0.8728
bottoms = [0.670, 0.366, 0.0637]
height = 0.278

axes = []
for row, (name, series) in enumerate(zip(molecules, panel_series)):
    ax = fig.add_axes([left, bottoms[row], width, height])
    axes.append(ax)
    for values, label, color, lw in zip(series, state_labels, state_colors, state_widths):
        vals = np.asarray(values)
        assert vals.size == time_ps.size, (name, label, vals.size)
        ax.plot(time_ps, vals, color=color, lw=lw, label=label,
                solid_joinstyle="round")
    ax.set_xlim(0, 2.0)
    ax.set_ylim(0, 1.0)
    ax.set_yticks(y_ticks)
    ax.set_yticklabels(y_tick_labels)
    ax.set_xticks(x_ticks)
    if row == 2:
        ax.set_xticklabels(x_tick_labels)
        ax.set_xlabel("Time / ps", fontsize=20, labelpad=6)
    else:
        ax.set_xticklabels([])
    ax.tick_params(direction="in", length=6, width=1.4, labelsize=19,
                   left=True, right=True, bottom=True, top=False, pad=5)
    for sp in ax.spines.values():
        sp.set_linewidth(1.4)
    ax.text(0.988, 0.965, name, transform=ax.transAxes, ha="right", va="top",
            fontsize=20.5)

axes[1].set_ylabel("Populations", fontsize=20.5)
axes[1].yaxis.set_label_coords(-0.081, 0.5)

handles, labels = axes[0].get_legend_handles_labels()
axes[0].legend(handles, labels, loc="lower center", bbox_to_anchor=(0.505, 1.03),
               ncol=5, frameon=False, fontsize=18.5, handlelength=2.0,
               columnspacing=0.8, handletextpad=0.75, borderaxespad=0.0,
               borderpad=0.2)

fig.savefig("out.png", dpi=100)
